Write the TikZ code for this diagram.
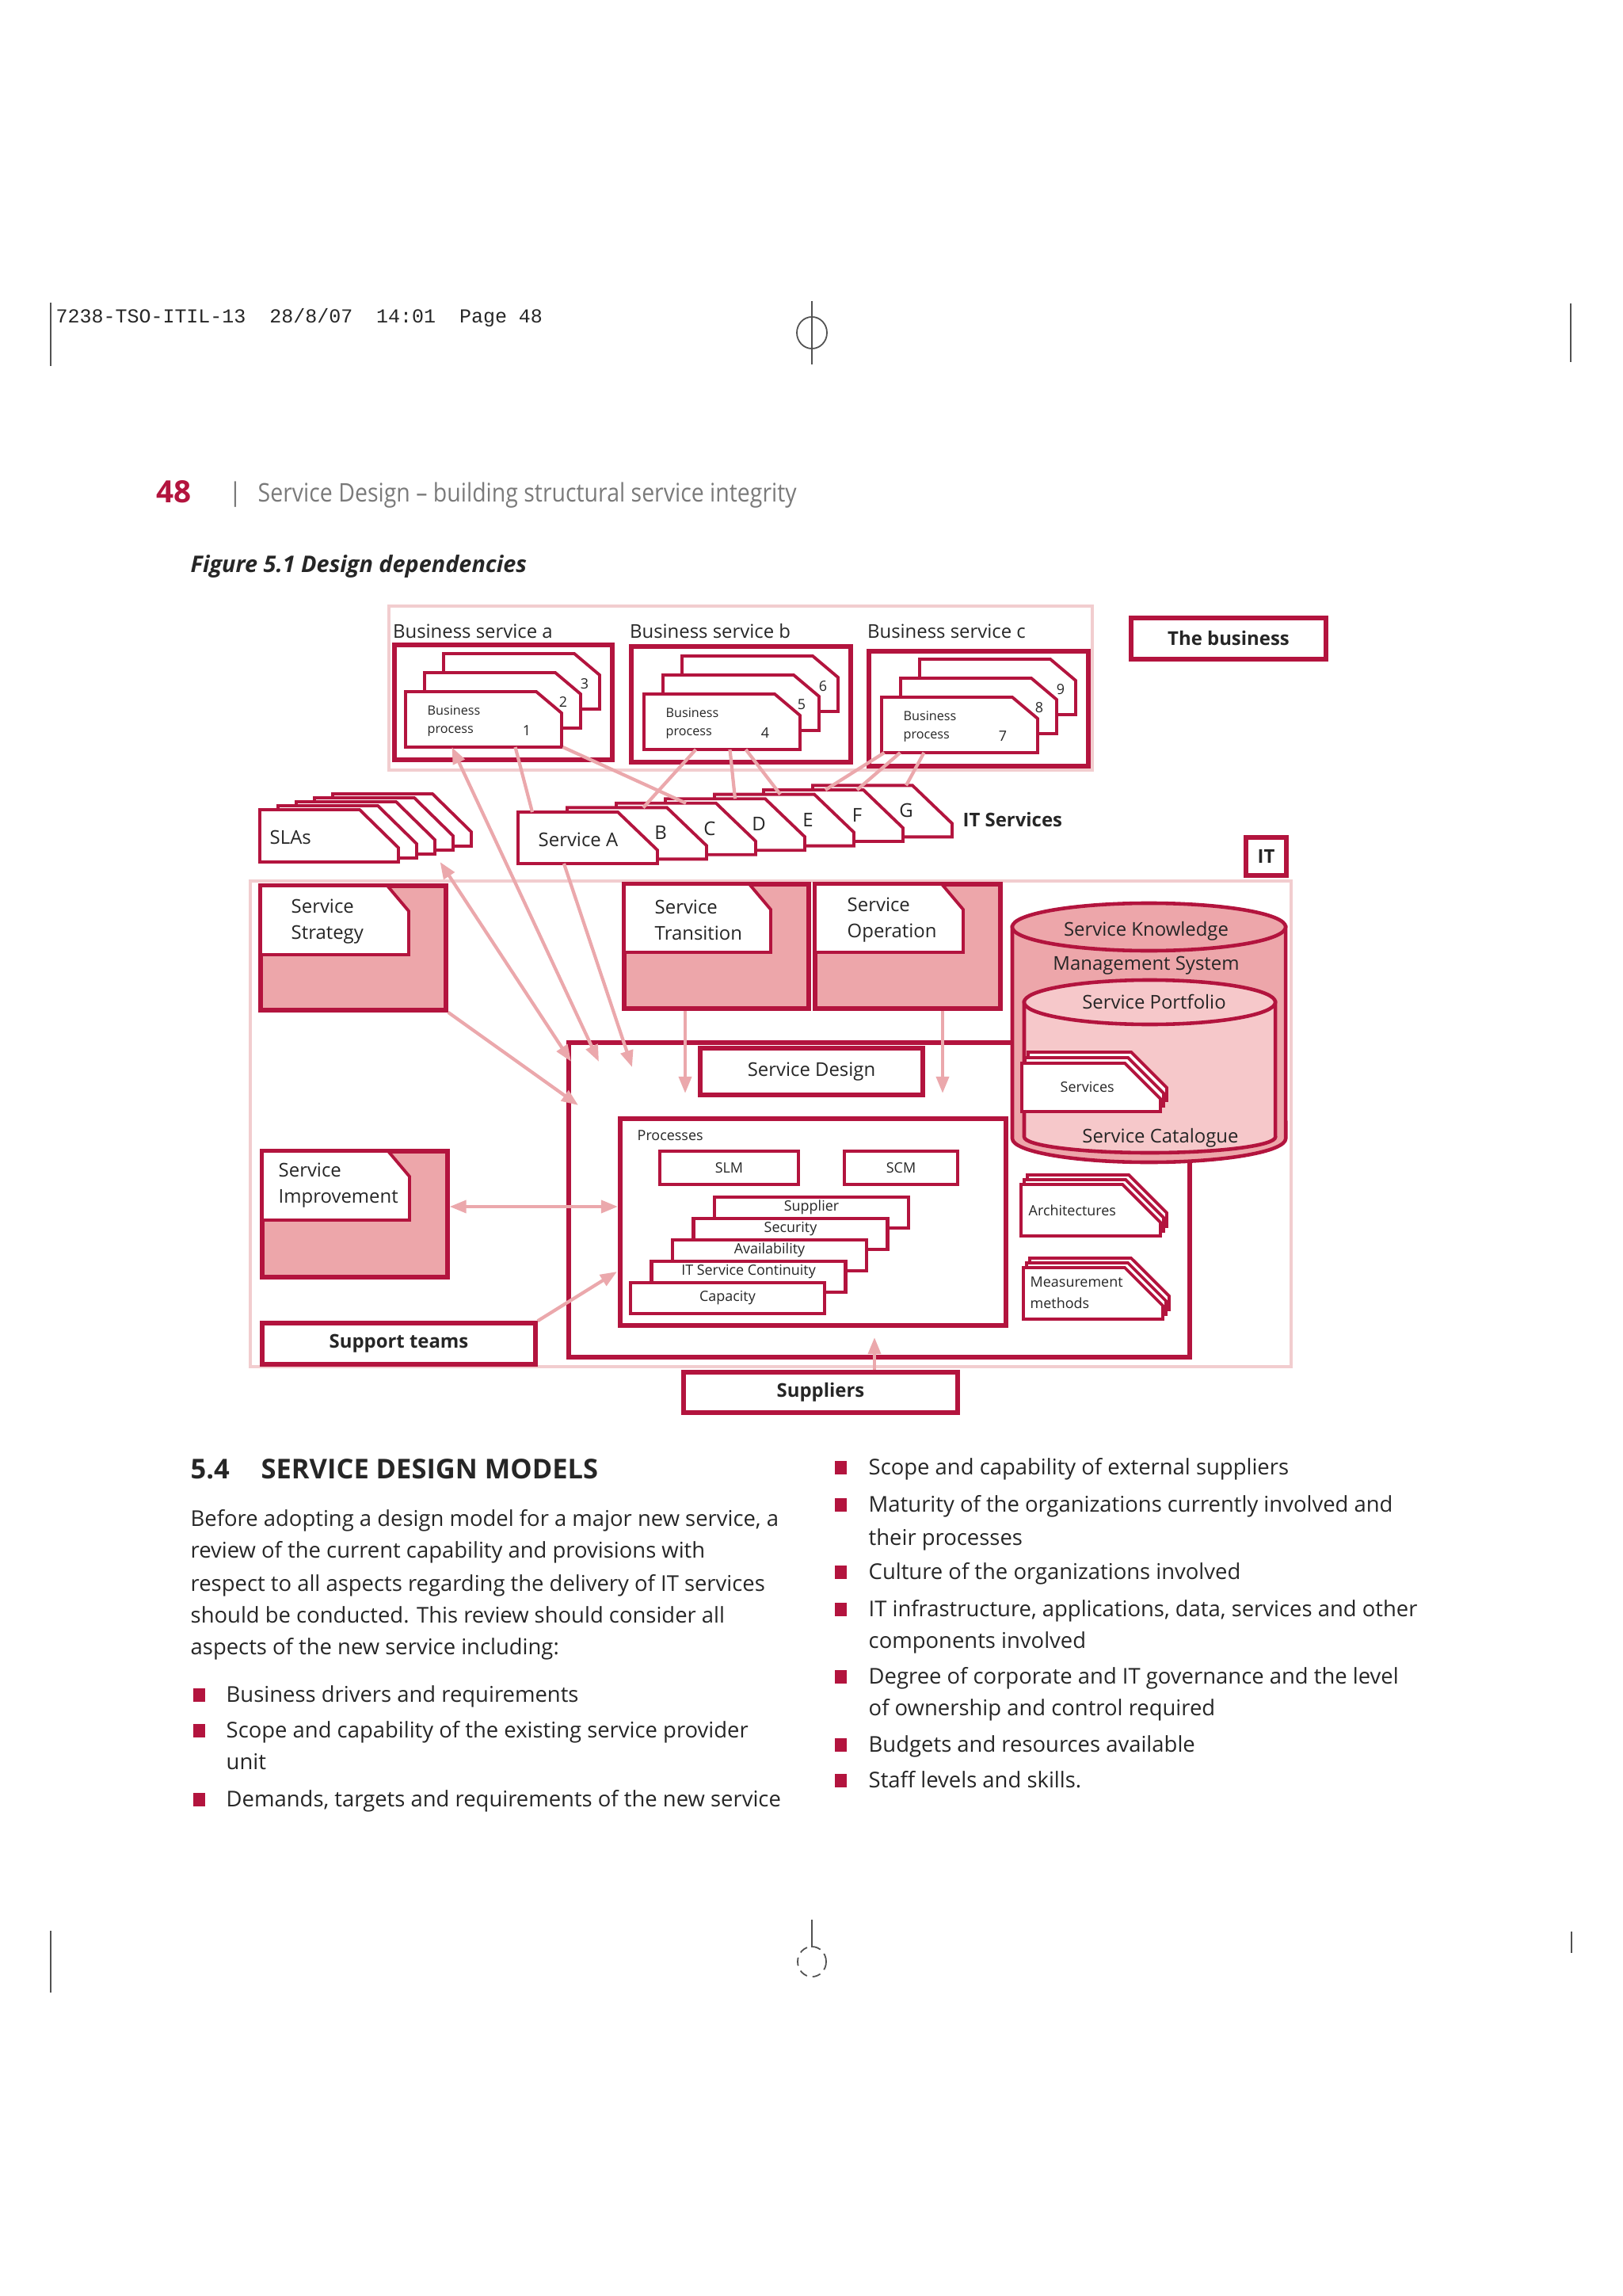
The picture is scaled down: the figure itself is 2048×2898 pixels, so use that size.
\documentclass[tikz,border=0pt]{standalone}
\usepackage{fontspec}
\setmainfont{Open Sans}
\newfontfamily\slugfont{Liberation Mono}
\usetikzlibrary{arrows.meta,positioning,fit,calc}
\definecolor{crimson}{HTML}{B3143E}
\definecolor{blush}{HTML}{EDA6AA}
\definecolor{petal}{HTML}{F6C8CA}
\definecolor{haze}{HTML}{F2CDCF}
\definecolor{linkpink}{HTML}{EBA8AC}
\definecolor{ink}{HTML}{262626}
\definecolor{slate}{HTML}{7A7A7A}
\tikzset{
  haloframe/.style={rectangle, draw=haze, line width=1.3pt, inner sep=0pt},
  bizbox/.style={rectangle, draw=crimson, line width=1.5pt, inner sep=0pt},
  tagbox/.style={rectangle, draw=crimson, fill=white, line width=1.5pt, inner sep=0pt},
  phasebox/.style={rectangle, draw=crimson, fill=blush, line width=1.5pt, inner sep=0pt},
  procbox/.style={rectangle, draw=crimson, fill=white, line width=1.3pt, inner sep=0pt},
  sheetline/.style={draw=crimson, fill=white, line width=1.1pt},
  labeltext/.style={font=\fontsize{6.8}{9.4}\selectfont, text=ink, inner sep=0pt},
  tagtext/.style={font=\fontsize{6.8}{9.4}\selectfont\bfseries, text=ink, inner sep=0pt},
  tinytext/.style={font=\fontsize{4.6}{6.8}\selectfont, text=ink, inner sep=0pt},
  smalltext/.style={font=\fontsize{5.1}{7.6}\selectfont, text=ink, inner sep=0pt},
  linkline/.style={draw=linkpink, line width=1.2pt},
  linkarrow/.style={linkline, -{Triangle[length=6pt,width=4.5pt]}},
  linkboth/.style={linkline, {Triangle[length=6pt,width=4.5pt]}-{Triangle[length=6pt,width=4.5pt]}},
  bodytext/.style={font=\fontsize{7.8}{11.6}\selectfont, text=ink, inner sep=0pt, anchor=base west},
  headtext/.style={font=\fontsize{9.8}{11}\selectfont\bfseries, text=ink, inner sep=0pt, anchor=base west},
  bulletmark/.style={rectangle, fill=crimson, minimum width=0.15cm, minimum height=0.17cm, inner sep=0pt},
  slugtext/.style={font=\slugfont\fontsize{7.1}{8}\selectfont, text=ink, inner sep=0pt},
  cropline/.style={draw=ink!80, line width=0.5pt},
  pics/sheet/.style args={#1/#2/#3/#4}{code={
    \path[pic actions] (0,0) -- ({#1-#3},0) -- (#1,#4) -- (#1,#2) -- (0,#2) -- cycle;
    \coordinate (-top) at ({#1/2},0);
    \coordinate (-bot) at ({#1/2},#2);
  }},
}

\begin{document}
\begin{tikzpicture}[x=0.01cm, y=-0.01cm]
  \useasboundingbox (0,0) rectangle (2048,2898);

  % slug line and crop marks
  \node[slugtext, anchor=west] (slug) at (70,401) {7238-TSO-ITIL-13\ \ 28/8/07\ \ 14:01\ \ Page 48};
  \draw[cropline] (64,382) -- (64,462) (1983,383) -- (1983,457) (1025,380) -- (1025,460);
  \draw[cropline] (1025,420) ellipse [x radius=0.19cm, y radius=0.2cm];
  \draw[cropline] (64,2437) -- (64,2515) (1984,2438) -- (1984,2465) (1025,2423) -- (1025,2458);
  \draw[cropline, densely dashed] (1025,2476) ellipse [x radius=0.18cm, y radius=0.19cm];

  % running head
  \node[font=\fontsize{11}{12}\selectfont\bfseries, text=crimson, anchor=west, inner sep=0pt] (pageno) at (197,621) {48};
  \node[font=\fontsize{9.2}{10}\selectfont, text=slate, inner sep=0pt] (headbar) at (297,624) {|};
  \node[anchor=west, text=slate, inner sep=0pt] (runhead) at (325,625)
    {\scalebox{0.88}[1]{\fontsize{9.2}{10}\selectfont Service Design – building structural service integrity}};
  \node[anchor=west, font=\fontsize{8.2}{9}\selectfont\bfseries\itshape, text=ink, inner sep=0pt] (figcap) at (240,715) {Figure 5.1 Design dependencies};

  % frames
  \node[haloframe, fit={(491,765) (1379,972)}] (bizframe) {};
  \node[haloframe, fit={(316,1112) (1630,1725)}] (itframe) {};

  % the business
  \coordinate (labelRow) at (0,797);
  \node[bizbox, fit={(498,814) (773,959)}] (bsa) {};
  \node[bizbox, fit={(797,816) (1074,962)}] (bsb) {};
  \node[bizbox, fit={(1097,822) (1374,967)}] (bsc) {};
  \node[labeltext, anchor=west] (bsaLabel) at (bsa.west |- labelRow) {Business service a};
  \node[labeltext, anchor=west] (bsbLabel) at (bsb.west |- labelRow) {Business service b};
  \node[labeltext, anchor=west] (bscLabel) at (bsc.west |- labelRow) {Business service c};
  \foreach \bx/\by/\n/\tag in {512/873/1/bpa, 813/876/4/bpb, 1113/880/7/bpc} {
    \pgfmathtruncatemacro\nb{\n+1}
    \pgfmathtruncatemacro\nc{\n+2}
    \foreach \k in {2,1}
      \pic[sheetline] at ({\bx+24*\k},{\by-24*\k}) {sheet=197/70/32/27};
    \pic[sheetline] (\tag) at (\bx,\by) {sheet=197/70/32/27};
    \node[tinytext, align=left, anchor=west] (\tag-text) at ({\bx+27},{\by+37}) {Business\\process};
    \node[smalltext] (\tag-n0) at ({\bx+153},{\by+49}) {\n};
    \node[smalltext] (\tag-n1) at ({\bx+199},{\by+13}) {\nb};
    \node[smalltext] (\tag-n2) at ({\bx+226},{\by-10}) {\nc};
  }
  \node[tagbox, fit={(1428,780) (1674,832)}, label={[tagtext]center:The business}] (bizTag) {};

  % SLAs and IT services
  \foreach \k in {4,3,2,1}
    \pic[sheetline] at ({328+23*\k},{1022-5*\k}) {sheet=175/66/49/48};
  \pic[sheetline] (slas) at (328,1022) {sheet=175/66/49/48};
  \node[labeltext, anchor=west] (slasText) at (340,1057) {SLAs};
  \foreach \k in {6,5,...,1}
    \pic[sheetline] (itsv\k) at ({654+62*\k},{1025-5.6*\k}) {sheet=176/65/50/48};
  \pic[sheetline] (itsv0) at (654,1025) {sheet=176/65/50/48};
  \node[labeltext, anchor=west] (svcA) at (679,1060) {Service A};
  \foreach \k/\svc in {1/B,2/C,3/D,4/E,5/F,6/G}
    \node[labeltext] (svc\svc) at ({654+62*\k+118},{1025-5.6*\k+32}) {\svc};
  \node[tagtext, anchor=west] (itsLabel) at (1215,1035) {IT Services};
  \node[tagbox, fit={(1573,1057) (1624,1105)}, label={[tagtext]center:IT}] (itTag) {};

  % lifecycle phases
  \node[phasebox, fit={(329,1118) (563,1275)}] (strategy) {};
  \pic[sheetline] at (329,1118) {sheet=187/87/27/32};
  \node[labeltext, align=left, anchor=west] (strategyText) at (367,1163) {Service\\Strategy};
  \node[phasebox, fit={(788,1116) (1021,1273)}] (transition) {};
  \pic[sheetline] at (788,1116) {sheet=185/86/27/32};
  \node[labeltext, align=left, anchor=west] (transitionText) at (826,1161) {Service\\Transition};
  \node[phasebox, fit={(1029,1116) (1263,1273)}] (operation) {};
  \pic[sheetline] at (1029,1116) {sheet=187/86/27/32};
  \node[labeltext, align=left, anchor=west] (operationText) at (1069,1161) {Service\\Operation};
  \node[phasebox, fit={(331,1453) (565,1612)}] (improvement) {};
  \pic[sheetline] at (331,1453) {sheet=186/87/27/32};
  \node[labeltext, align=left, anchor=west] (improvementText) at (351,1496) {Service\\Improvement};

  % service design
  \node[bizbox, fill=white, fit={(718,1316) (1502,1713)}] (design) {};
  \node[bizbox, fit={(884,1323) (1165,1382)}, label={[labeltext]center:Service Design}] (sdTitle) {};
  \node[bizbox, fit={(783,1412) (1270,1673)}] (procs) {};
  \node[smalltext, anchor=west] (procsLabel) at (804,1433) {Processes};
  \node[procbox, fit={(833,1453) (1008,1495)}, label={[smalltext]center:SLM}] (slm) {};
  \node[procbox, fit={(1066,1453) (1209,1495)}, label={[smalltext]center:SCM}] (scm) {};
  \foreach \k/\name/\txt in {4/supplier/Supplier, 3/security/Security, 2/availability/Availability, 1/continuity/IT Service Continuity} {
    \node[procbox, fit={({796+26.5*\k},{1619-27*\k}) ({1041+26.5*\k},{1658-27*\k})}] (\name) {};
    \node[smalltext] (\name Text) at ({918.5+26.5*\k},{1632-27*\k}) {\txt};
  }
  \node[procbox, fit={(796,1619) (1041,1658)}, label={[smalltext]center:Capacity}] (capacity) {};

  % knowledge base
  \draw[crimson, fill=blush, line width=1.3pt] (1278,1170) -- (1278,1437)
    arc[start angle=180, end angle=360, x radius=1.725cm, y radius=0.3cm] -- (1623,1170) -- cycle;
  \draw[crimson, fill=blush, line width=1.3pt] (1450.5,1170) ellipse [x radius=1.725cm, y radius=0.3cm];
  \draw[crimson, fill=petal, line width=1.3pt] (1293,1265) -- (1293,1435)
    arc[start angle=180, end angle=360, x radius=1.585cm, y radius=0.2cm] -- (1610,1265) -- cycle;
  \draw[crimson, fill=petal, line width=1.3pt] (1451.5,1265) ellipse [x radius=1.585cm, y radius=0.28cm];
  \node[labeltext] (skmsTop) at (1447,1175) {Service Knowledge};
  \node[labeltext] (skmsMid) at (1447,1219) {Management System};
  \node[labeltext] (portfolio) at (1457,1264) {Service Portfolio};
  \node[labeltext] (catalogue) at (1465,1436) {Service Catalogue};
  \foreach \k in {2,1}
    \pic[sheetline] at ({1290+4*\k},{1342-7*\k}) {sheet=175/61/45/45};
  \pic[sheetline] (services) at (1290,1342) {sheet=175/61/45/45};
  \node[smalltext, anchor=west] (servicesText) at (1338,1372) {Services};
  \foreach \k in {2,1}
    \pic[sheetline] at ({1289+4*\k},{1495-6*\k}) {sheet=176/65/48/48};
  \pic[sheetline] (archs) at (1289,1495) {sheet=176/65/48/48};
  \node[smalltext, anchor=west] (archsText) at (1298,1528) {Architectures};
  \foreach \k in {2,1}
    \pic[sheetline] at ({1292+4*\k},{1600-6*\k}) {sheet=176/65/48/48};
  \pic[sheetline] (measures) at (1292,1600) {sheet=176/65/48/48};
  \node[smalltext, align=left, anchor=west] (measuresText) at (1300,1632) {Measurement\\methods};

  \node[tagbox, fit={(331,1670) (676,1722)}, label={[tagtext]center:Support teams}] (support) {};
  \node[tagbox, fit={(863,1732) (1209,1783)}, label={[tagtext]center:Suppliers}] (suppliers) {};

  % connectors
  \coordinate (dzSla) at (721,1340);
  \coordinate (dzBp) at (756,1340);
  \coordinate (dzSvc) at (798,1347);
  \coordinate (dzStrat) at (730,1395);
  \coordinate (dzTr) at (865,1380);
  \coordinate (dzOp) at (1190,1380);
  \coordinate (procIn) at (780,1523);
  \coordinate (procLow) at (779,1605);
  \coordinate (dzSup) at (1104,1688);
  \draw[linkboth] ([xshift=1.4cm]slas-bot) -- (dzSla);
  \draw[linkboth] ([xshift=-0.4cm]bpa-bot) -- (dzBp);
  \draw[linkline] ([xshift=0.4cm]bpa-bot) -- ([xshift=-0.7cm]itsv0-top);
  \draw[linkarrow] ([xshift=-0.3cm]itsv0-bot) -- (dzSvc);
  \draw[linkarrow] (strategy.south east) -- (dzStrat);
  \draw[linkarrow] (transition.south -| dzTr) -- (dzTr);
  \draw[linkarrow] (operation.south -| dzOp) -- (dzOp);
  \draw[linkboth] (improvement.east |- procIn) -- (procIn);
  \draw[linkarrow] (support.north east) -- (procLow);
  \draw[linkarrow] (suppliers.north -| dzSup) -- (dzSup);
  \draw[linkline] ([xshift=1.0cm]bpa-bot) -- (itsv2-top);
  \draw[linkline] ([xshift=-0.33cm]bpb-bot) -- ([xshift=0.08cm]itsv1-top);
  \draw[linkline] ([xshift=0.1cm]bpb-bot) -- (itsv3-top);
  \draw[linkline] ([xshift=0.3cm]bpb-bot) -- ([xshift=-0.05cm]itsv4-top);
  \draw[linkline] ([xshift=-0.95cm]bpc-bot) -- ([xshift=-0.1cm]itsv5-top);
  \draw[linkline] ([xshift=-0.75cm]bpc-bot) -- ([xshift=0.3cm]itsv5-top);
  \draw[linkline] ([xshift=-0.45cm]bpc-bot) -- ([xshift=0.3cm]itsv6-top);

  % section text
  \node[headtext] (secNum) at (240,1866) {5.4};
  \node[headtext] (secTitle) at (329,1866) {SERVICE DESIGN MODELS};
  \node[bodytext] (para1) at (240,1926) {Before adopting a design model for a major new service, a};
  \node[bodytext] (para2) at (240,1966) {review of the current capability and provisions with};
  \node[bodytext] (para3) at (240,2008) {respect to all aspects regarding the delivery of IT services};
  \node[bodytext] (para4) at (240,2048) {should be conducted. This review should consider all};
  \node[bodytext] (para5) at (240,2088) {aspects of the new service including:};
  \foreach \yy [count=\i] in {2148,2193,2280}
    \node[bulletmark] (bulL\i) at (251,{\yy-9}) {};
  \node[bodytext] (itemL1) at (285,2148) {Business drivers and requirements};
  \node[bodytext] (itemL2) at (285,2193) {Scope and capability of the existing service provider};
  \node[bodytext] (itemL2b) at (285,2233) {unit};
  \node[bodytext] (itemL3) at (285,2280) {Demands, targets and requirements of the new service};
  \foreach \yy [count=\i] in {1861,1908,1993,2040,2125,2211,2256}
    \node[bulletmark] (bulR\i) at (1061,{\yy-9}) {};
  \node[bodytext] (itemR1) at (1096,1861) {Scope and capability of external suppliers};
  \node[bodytext] (itemR2) at (1096,1908) {Maturity of the organizations currently involved and};
  \node[bodytext] (itemR2b) at (1096,1950) {their processes};
  \node[bodytext] (itemR3) at (1096,1993) {Culture of the organizations involved};
  \node[bodytext] (itemR4) at (1096,2040) {IT infrastructure, applications, data, services and other};
  \node[bodytext] (itemR4b) at (1096,2080) {components involved};
  \node[bodytext] (itemR5) at (1096,2125) {Degree of corporate and IT governance and the level};
  \node[bodytext] (itemR5b) at (1096,2165) {of ownership and control required};
  \node[bodytext] (itemR6) at (1096,2211) {Budgets and resources available};
  \node[bodytext] (itemR7) at (1096,2256) {Staff levels and skills.};
\end{tikzpicture}
\end{document}
